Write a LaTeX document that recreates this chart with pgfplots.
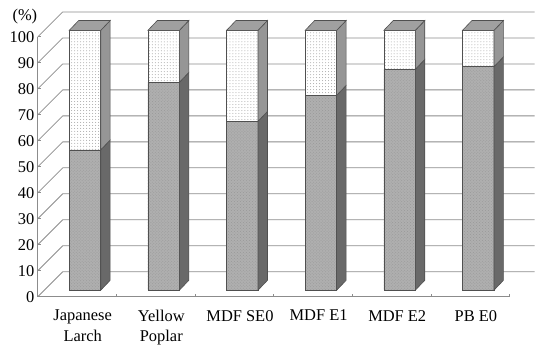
\documentclass[border=0pt]{standalone}
\usepackage{fontspec}
\setmainfont{Liberation Serif}
\usepackage{pgfplots}
\pgfplotsset{compat=1.18}
\usetikzlibrary{patterns}
\definecolor{gridc}{RGB}{140,140,140}
\definecolor{frontlow}{RGB}{175,175,175}
\definecolor{sidelow}{RGB}{105,105,105}
\definecolor{sideup}{RGB}{150,150,150}
\definecolor{topc}{RGB}{160,160,160}
\definecolor{edgec}{RGB}{80,80,80}
\pgfplotsset{
  base/.style={
    at={(0pt,0pt)}, anchor=south west,
    scale only axis, width=474pt, height=261pt,
    xmin=-0.5, xmax=5.5, ymin=0, ymax=100,
    clip=false,
  },
  side/.style={draw=edgec, line width=0.6pt, forget plot},
}
\begin{document}
\begin{tikzpicture}
% back wall and left wall gridlines (decoration)
\foreach \v in {0,...,10} {
  \draw[gridc, line width=0.8pt] (0pt,\v*26.1pt) -- ++(25pt,25pt) -- ++(474pt,0pt);
}
\begin{axis}[
  base,
  axis lines*=left,
  axis line style={gridc, line width=0.8pt},
  ytick={0,10,...,100},
  ytick style={gridc, line width=0.8pt},
  major tick length=3pt,
  xtick={-0.5,0.5,1.5,2.5,3.5,4.5,5.5},
  xticklabels={},
  xtick align=inside,
  xtick style={gridc, line width=0.8pt},
  extra x ticks={0.07,1.07,2.07,3.07,4.07,5.07},
  extra x tick labels={{Japanese\\Larch},{Yellow\\Poplar},{MDF SE0},{MDF E1},{MDF E2},{PB E0}},
  extra x tick style={major tick length=0pt, xticklabel style={align=center, yshift=-10pt}},
  tick label style={font=\fontsize{16.5}{20.5}\selectfont},
  /pgf/number format/assume math mode=true,
  ybar stacked, bar width=0.4, bar shift=0.1,
]
% invisible base (bars stand slightly into the depth)
\addplot[draw=none, fill=none, forget plot] coordinates {(0,2.5) (1,2.5) (2,2.5) (3,2.5) (4,2.5) (5,2.5)};
% lower portion
\addplot[draw=edgec, line width=0.6pt, fill=frontlow, postaction={pattern=crosshatch dots, pattern color=black!40}, forget plot]
  coordinates {(0,54) (1,80) (2,65) (3,75) (4,85) (5,86)};
% upper portion
\addplot[draw=edgec, line width=0.6pt, fill=white, postaction={pattern=dots, pattern color=black!35}, forget plot]
  coordinates {(0,46) (1,20) (2,35) (3,25) (4,15) (5,14)};
\end{axis}
\begin{axis}[base, hide axis]
% bar 0 (54)
\addplot[side, fill=sidelow] coordinates {(0.3,2.5) (0.42,6.3) (0.42,60.3) (0.3,56.5)} -- cycle;
\addplot[side, fill=sideup] coordinates {(0.3,56.5) (0.42,60.3) (0.42,106.3) (0.3,102.5)} -- cycle;
\addplot[side, fill=topc] coordinates {(-0.1,102.5) (0.3,102.5) (0.42,106.3) (0.02,106.3)} -- cycle;
% bar 1 (80)
\addplot[side, fill=sidelow] coordinates {(1.3,2.5) (1.42,6.3) (1.42,86.3) (1.3,82.5)} -- cycle;
\addplot[side, fill=sideup] coordinates {(1.3,82.5) (1.42,86.3) (1.42,106.3) (1.3,102.5)} -- cycle;
\addplot[side, fill=topc] coordinates {(0.9,102.5) (1.3,102.5) (1.42,106.3) (1.02,106.3)} -- cycle;
% bar 2 (65)
\addplot[side, fill=sidelow] coordinates {(2.3,2.5) (2.42,6.3) (2.42,71.3) (2.3,67.5)} -- cycle;
\addplot[side, fill=sideup] coordinates {(2.3,67.5) (2.42,71.3) (2.42,106.3) (2.3,102.5)} -- cycle;
\addplot[side, fill=topc] coordinates {(1.9,102.5) (2.3,102.5) (2.42,106.3) (2.02,106.3)} -- cycle;
% bar 3 (75)
\addplot[side, fill=sidelow] coordinates {(3.3,2.5) (3.42,6.3) (3.42,81.3) (3.3,77.5)} -- cycle;
\addplot[side, fill=sideup] coordinates {(3.3,77.5) (3.42,81.3) (3.42,106.3) (3.3,102.5)} -- cycle;
\addplot[side, fill=topc] coordinates {(2.9,102.5) (3.3,102.5) (3.42,106.3) (3.02,106.3)} -- cycle;
% bar 4 (85)
\addplot[side, fill=sidelow] coordinates {(4.3,2.5) (4.42,6.3) (4.42,91.3) (4.3,87.5)} -- cycle;
\addplot[side, fill=sideup] coordinates {(4.3,87.5) (4.42,91.3) (4.42,106.3) (4.3,102.5)} -- cycle;
\addplot[side, fill=topc] coordinates {(3.9,102.5) (4.3,102.5) (4.42,106.3) (4.02,106.3)} -- cycle;
% bar 5 (86)
\addplot[side, fill=sidelow] coordinates {(5.3,2.5) (5.42,6.3) (5.42,92.3) (5.3,88.5)} -- cycle;
\addplot[side, fill=sideup] coordinates {(5.3,88.5) (5.42,92.3) (5.42,106.3) (5.3,102.5)} -- cycle;
\addplot[side, fill=topc] coordinates {(4.9,102.5) (5.3,102.5) (5.42,106.3) (5.02,106.3)} -- cycle;
\end{axis}
\node[font=\fontsize{16.5}{20}\selectfont] at (-13pt,281pt) {(\%)};
\path[use as bounding box] (-38pt,-53pt) rectangle (497pt,298pt);
\end{tikzpicture}
\end{document}
